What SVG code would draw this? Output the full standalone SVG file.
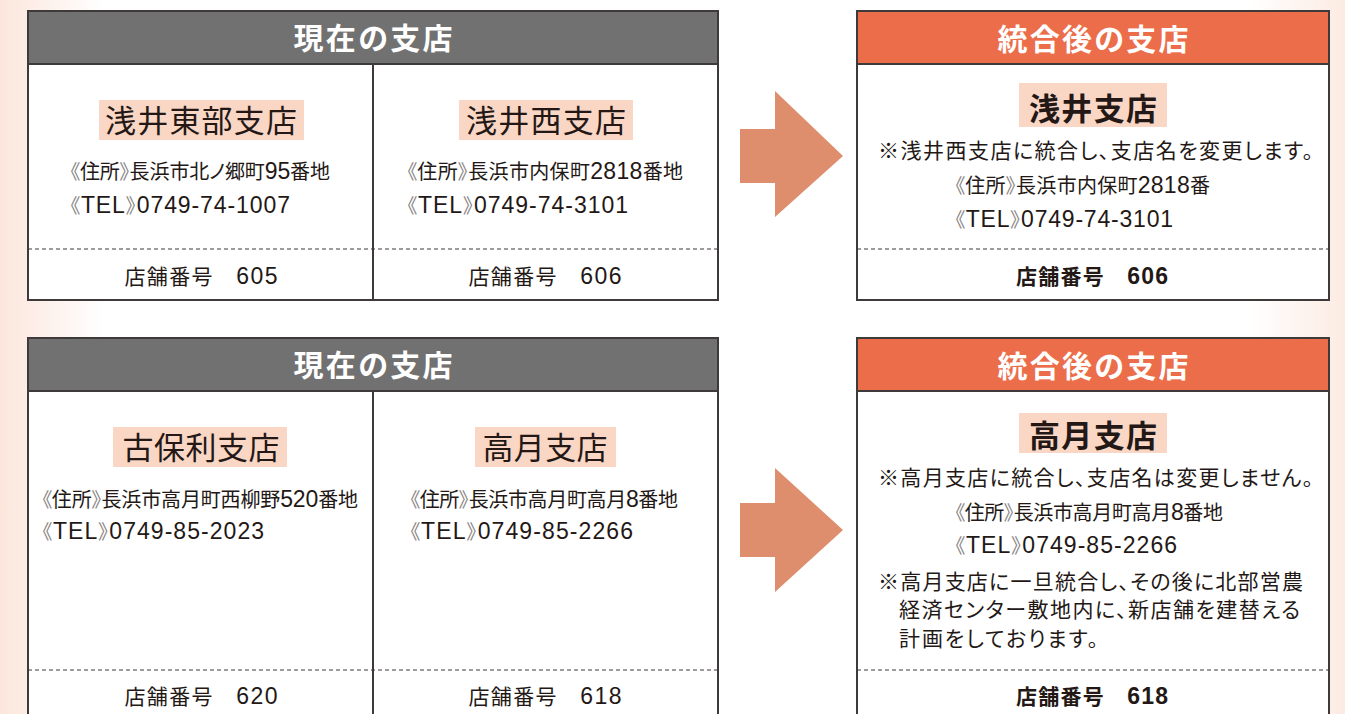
<svg xmlns="http://www.w3.org/2000/svg" width="1345" height="714" viewBox="0 0 1345 714">
<defs>
<linearGradient id="bgL" x1="0" y1="0" x2="1" y2="0">
<stop offset="0" stop-color="#fce6dc"/><stop offset="1" stop-color="#ffffff"/>
</linearGradient>
<linearGradient id="bgR" x1="0" y1="0" x2="1" y2="0">
<stop offset="0" stop-color="#ffffff"/><stop offset="1" stop-color="#fcebe2"/>
</linearGradient>
<style>
.box{fill:#ffffff;stroke:#3e3a39;stroke-width:2}
.hdrG{fill:#727171;stroke:#3e3a39;stroke-width:2}
.hdrO{fill:#ec6d4a;stroke:#3e3a39;stroke-width:2}
.div{stroke:#3e3a39;stroke-width:2}
.dash{stroke:#3e3a39;stroke-width:1;stroke-dasharray:4 3}
.hl{fill:#fad6c5}
.arrow{fill:#de8d6d}
text{font-family:"Liberation Sans","Noto Sans CJK JP",sans-serif;fill:#231815;font-feature-settings:"palt"}
.ht{font-family:"Noto Sans CJK JP",sans-serif;font-size:30px;font-weight:bold;fill:#ffffff;text-anchor:middle}
.nm{font-family:"Noto Sans CJK JP",sans-serif;font-size:31px;text-anchor:middle}
.nmb{font-family:"Noto Sans CJK JP",sans-serif;font-size:31px;font-weight:bold;text-anchor:middle}
.tx{font-size:20px}
.nt{font-size:21px}
.txc{font-size:21px;text-anchor:middle}
.txb{font-size:21px;font-weight:bold;text-anchor:middle}
.n{font-size:23px}
.br{fill:#8a8584}
</style>
</defs>
<rect x="0" y="0" width="1345" height="714" fill="#ffffff"/>
<rect x="0" y="0" width="105" height="714" fill="url(#bgL)"/>
<rect x="1250" y="0" width="95" height="714" fill="url(#bgR)"/>

<g id="current1">
<rect class="box" x="28" y="11" width="690" height="289"/>
<rect class="hdrG" x="28" y="11" width="690" height="53"/>
<text class="ht" x="373" y="49" textLength="159">現在の支店</text>
<line class="div" x1="373" y1="64" x2="373" y2="300"/>
<line class="dash" x1="28" y1="249" x2="718" y2="249"/>
</g>
<g id="asai-higashi">
<rect class="hl" x="99" y="100" width="205" height="40"/>
<text class="nm" x="201" y="132" textLength="192">浅井東部支店</text>
<text class="tx" x="70" y="179" textLength="260"><tspan class="br">《</tspan>住所<tspan class="br">》</tspan>長浜市北ノ郷町<tspan class="n">95</tspan>番地</text>
<text class="tx" x="70" y="213" textLength="220"><tspan class="br">《</tspan><tspan class="n">TEL</tspan><tspan class="br">》</tspan><tspan class="n">0749-74-1007</tspan></text>
<text class="txc" x="201" y="284" textLength="153">店舗番号　<tspan class="n">605</tspan></text>
</g>
<g id="asai-nishi">
<rect class="hl" x="459" y="100" width="174" height="40"/>
<text class="nm" x="546" y="132" textLength="160">浅井西支店</text>
<text class="tx" x="407" y="179" textLength="276"><tspan class="br">《</tspan>住所<tspan class="br">》</tspan>長浜市内保町<tspan class="n">2818</tspan>番地</text>
<text class="tx" x="407" y="213" textLength="221"><tspan class="br">《</tspan><tspan class="n">TEL</tspan><tspan class="br">》</tspan><tspan class="n">0749-74-3101</tspan></text>
<text class="txc" x="545" y="284" textLength="153">店舗番号　<tspan class="n">606</tspan></text>
</g>

<g id="merged1">
<rect class="box" x="857" y="11" width="472" height="289"/>
<rect class="hdrO" x="857" y="11" width="472" height="53"/>
<text class="ht" x="1093" y="50" textLength="191">統合後の支店</text>
<rect class="hl" x="1019" y="83" width="148" height="44"/>
<text class="nmb" x="1093" y="120" textLength="128">浅井支店</text>
<text class="nt" x="878" y="158" textLength="435">※浅井西支店に統合し、支店名を変更します。</text>
<text class="tx" x="955" y="193" textLength="255"><tspan class="br">《</tspan>住所<tspan class="br">》</tspan>長浜市内保町<tspan class="n">2818</tspan>番</text>
<text class="tx" x="955" y="227" textLength="218"><tspan class="br">《</tspan><tspan class="n">TEL</tspan><tspan class="br">》</tspan><tspan class="n">0749-74-3101</tspan></text>
<line class="dash" x1="857" y1="249" x2="1329" y2="249"/>
<text class="txb" x="1092" y="284" textLength="152">店舗番号　<tspan class="n">606</tspan></text>
</g>

<g id="current2">
<rect class="box" x="28" y="338" width="690" height="390"/>
<rect class="hdrG" x="28" y="338" width="690" height="53"/>
<text class="ht" x="373" y="376" textLength="159">現在の支店</text>
<line class="div" x1="373" y1="391" x2="373" y2="720"/>
<line class="dash" x1="28" y1="670" x2="718" y2="670"/>
</g>
<g id="kohori">
<rect class="hl" x="113" y="427" width="174" height="40"/>
<text class="nm" x="201" y="459" textLength="157">古保利支店</text>
<text class="tx" x="42" y="507" textLength="316"><tspan class="br">《</tspan>住所<tspan class="br">》</tspan>長浜市高月町西柳野<tspan class="n">520</tspan>番地</text>
<text class="tx" x="42" y="539" textLength="222"><tspan class="br">《</tspan><tspan class="n">TEL</tspan><tspan class="br">》</tspan><tspan class="n">0749-85-2023</tspan></text>
<text class="txc" x="201" y="704" textLength="153">店舗番号　<tspan class="n">620</tspan></text>
</g>
<g id="takatsuki">
<rect class="hl" x="475" y="427" width="141" height="40"/>
<text class="nm" x="545" y="459" textLength="125">高月支店</text>
<text class="tx" x="410" y="507" textLength="268"><tspan class="br">《</tspan>住所<tspan class="br">》</tspan>長浜市高月町高月<tspan class="n">8</tspan>番地</text>
<text class="tx" x="410" y="539" textLength="223"><tspan class="br">《</tspan><tspan class="n">TEL</tspan><tspan class="br">》</tspan><tspan class="n">0749-85-2266</tspan></text>
<text class="txc" x="545" y="704" textLength="153">店舗番号　<tspan class="n">618</tspan></text>
</g>

<g id="merged2">
<rect class="box" x="857" y="338" width="472" height="390"/>
<rect class="hdrO" x="857" y="338" width="472" height="53"/>
<text class="ht" x="1093" y="377" textLength="191">統合後の支店</text>
<rect class="hl" x="1019" y="413" width="148" height="40"/>
<text class="nmb" x="1093" y="447" textLength="128">高月支店</text>
<text class="nt" x="878" y="485" textLength="435">※高月支店に統合し、支店名は変更しません。</text>
<text class="tx" x="955" y="520" textLength="268"><tspan class="br">《</tspan>住所<tspan class="br">》</tspan>長浜市高月町高月<tspan class="n">8</tspan>番地</text>
<text class="tx" x="955" y="553" textLength="222"><tspan class="br">《</tspan><tspan class="n">TEL</tspan><tspan class="br">》</tspan><tspan class="n">0749-85-2266</tspan></text>
<text class="nt" x="878" y="589" textLength="425">※高月支店に一旦統合し、その後に北部営農</text>
<text class="nt" x="899" y="617" textLength="401">経済センター敷地内に、新店舗を建替える</text>
<text class="nt" x="899" y="646" textLength="199">計画をしております。</text>
<line class="dash" x1="857" y1="670" x2="1329" y2="670"/>
<text class="txb" x="1092" y="704" textLength="152">店舗番号　<tspan class="n">618</tspan></text>
</g>

<g id="connectors">
<polygon class="arrow" points="740,129 775,129 775,91 843,156 775,217 775,183 740,183"/>
<polygon class="arrow" points="740,503 775,503 775,468 843,530 775,592 775,557 740,557"/>
</g>
</svg>
